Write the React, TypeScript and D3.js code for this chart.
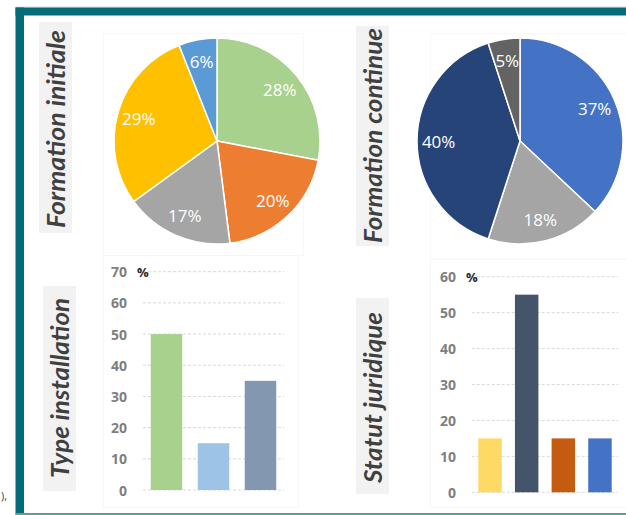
import React from "react";
import * as d3 from "d3";

const W = 626;
const H = 515;

// Pie 1 — Formation initiale
const fiLabels = ["A", "B", "C", "D", "E"];
const fiValues = [28, 20, 17, 29, 6];
const fiColors = ["#a9d18e", "#ed7d31", "#a5a5a5", "#ffc000", "#5b9bd5"];

// Pie 2 — Formation continue
const fcLabels = ["A", "B", "C", "D"];
const fcValues = [37, 18, 40, 5];
const fcColors = ["#4472c4", "#a5a5a5", "#264478", "#636363"];

// Bar 1 — Type installation
const tiCats = ["c1", "c2", "c3"];
const tiValues = [50, 15, 35];
const tiColors = ["#a9d18e", "#9dc3e6", "#8497b0"];
const tiTicks = [0, 10, 20, 30, 40, 50, 60, 70];

// Bar 2 — Statut juridique
const sjCats = ["s1", "s2", "s3", "s4"];
const sjValues = [15, 55, 15, 15];
const sjColors = ["#ffd966", "#44546a", "#c55a11", "#4472c4"];
const sjTicks = [0, 10, 20, 30, 40, 50, 60];

const TITLE_FONT = "Lato, 'Open Sans', sans-serif";
const NUM_FONT = "'Open Sans', 'Noto Sans', sans-serif";

function Pie({ cx, cy, r, values, colors, labels }: any) {
  const pie = d3.pie<number>().sort(null).value((d) => d)(values);
  const arc = d3.arc<any>().innerRadius(0).outerRadius(r);
  const labelArc = d3.arc<any>().innerRadius(r * 0.79).outerRadius(r * 0.79);
  return (
    <g transform={`translate(${cx},${cy})`}>
      {pie.map((p, i) => (
        <path key={labels[i]} d={arc(p) as string} fill={colors[i]} stroke="#ffffff" strokeWidth={1.5} />
      ))}
      {pie.map((p, i) => {
        const [x, y] = labelArc.centroid(p);
        return (
          <text
            key={"t" + labels[i]}
            x={x}
            y={y}
            textAnchor="middle"
            dominantBaseline="central"
            fill="#ffffff"
            fontFamily={NUM_FONT}
            fontSize={17}
          >
            {values[i]}%
          </text>
        );
      })}
    </g>
  );
}

function Bars({ x0, x1, y0, y1, max, ticks, cats, values, colors, labelX, padding }: any) {
  const x = d3.scaleBand<string>().domain(cats).range([x0, x1]).paddingInner(padding).paddingOuter(padding / 2);
  const y = d3.scaleLinear().domain([0, max]).range([y0, y1]);
  return (
    <g>
      {ticks.map((t: number) => (
        <g key={t}>
          <line x1={x0} x2={x1} y1={y(t)} y2={y(t)} stroke="#d9d9d9" strokeWidth={1} strokeDasharray="3,2" />
          <text
            x={labelX}
            y={y(t)}
            textAnchor="end"
            dominantBaseline="central"
            fill="#7f7f7f"
            fontFamily={NUM_FONT}
            fontWeight="bold"
            fontSize={14}
          >
            {t}
          </text>
        </g>
      ))}
      <text
        x={labelX + 10}
        y={y(max)}
        dominantBaseline="central"
        fill="#262626"
        fontFamily={NUM_FONT}
        fontWeight="bold"
        fontSize={13}
      >
        %
      </text>
      {cats.map((c: string, i: number) => (
        <rect
          key={c}
          x={x(c)}
          y={y(values[i])}
          width={x.bandwidth()}
          height={y(0) - y(values[i])}
          fill={colors[i]}
        />
      ))}
    </g>
  );
}

function Title({ x0, y0, x1, y1, text, cy, len }: any) {
  const cx = (x0 + x1) / 2;
  return (
    <g>
      <rect x={x0} y={y0} width={x1 - x0} height={y1 - y0} fill="#f2f2f2" />
      <text
        transform={`translate(${cx},${cy}) rotate(-90)`}
        textAnchor="middle"
        dominantBaseline="central"
        fill="#404040"
        fontFamily={TITLE_FONT}
        fontWeight="bold"
        fontStyle="italic"
        fontSize={24}
        textLength={len}
        lengthAdjust="spacingAndGlyphs"
      >
        {text}
      </text>
    </g>
  );
}

export default function App() {
  return (
    <div style={{ position: "absolute", left: 0, top: 0 }}>
      <svg width={W} height={H} style={{ display: "block", background: "#ffffff" }}>
        {/* frame */}
        <line x1={16} x2={W} y1={7} y2={7} stroke="#d3dede" strokeWidth={1} />
        <rect x={15.5} y={7.5} width={W - 15.5} height={8} fill="#046c78" />
        <rect x={15.5} y={7.5} width={8.5} height={H - 7.5} fill="#046c78" />
        <rect x={16} y={513} width={W - 16} height={2} fill="#5a9ea0" />
        <text x={1} y={500} fill="#404040" fontFamily={NUM_FONT} fontSize={11}>),</text>

        {/* faint chart frames */}
        <rect x={103.5} y={33.5} width={200} height={222} fill="none" stroke="#f8f8f8" />
        <rect x={430.5} y={33.5} width={200} height={225} fill="none" stroke="#f8f8f8" />
        <rect x={103.5} y={255.5} width={195} height={252} fill="none" stroke="#f6f6f6" />
        <rect x={430.5} y={259.5} width={200} height={248} fill="none" stroke="#f6f6f6" />

        <Title x0={39} y0={22} x1={72} y1={233} text="Formation initiale" cy={129} len={198} />
        <Title x0={356} y0={26} x1={389} y1={246} text="Formation continue" cy={135.5} len={215} />
        <Title x0={43} y0={286} x1={76} y1={491} text="Type installation" cy={388} len={180} />
        <Title x0={356} y0={298} x1={389} y1={494} text="Statut juridique" cy={397.5} len={171} />

        <Pie cx={217} cy={141} r={103} values={fiValues} colors={fiColors} labels={fiLabels} />
        <Pie cx={520} cy={141} r={103} values={fcValues} colors={fcColors} labels={fcLabels} />

        <Bars
          x0={143}
          x1={284}
          y0={490}
          y1={271.7}
          max={70}
          ticks={tiTicks}
          cats={tiCats}
          values={tiValues}
          colors={tiColors}
          labelX={127}
          padding={0.33}
        />
        <Bars
          x0={471.7}
          x1={618.3}
          y0={492.3}
          y1={276.7}
          max={60}
          ticks={sjTicks}
          cats={sjCats}
          values={sjValues}
          colors={sjColors}
          labelX={456}
          padding={0.36}
        />
      </svg>
    </div>
  );
}
